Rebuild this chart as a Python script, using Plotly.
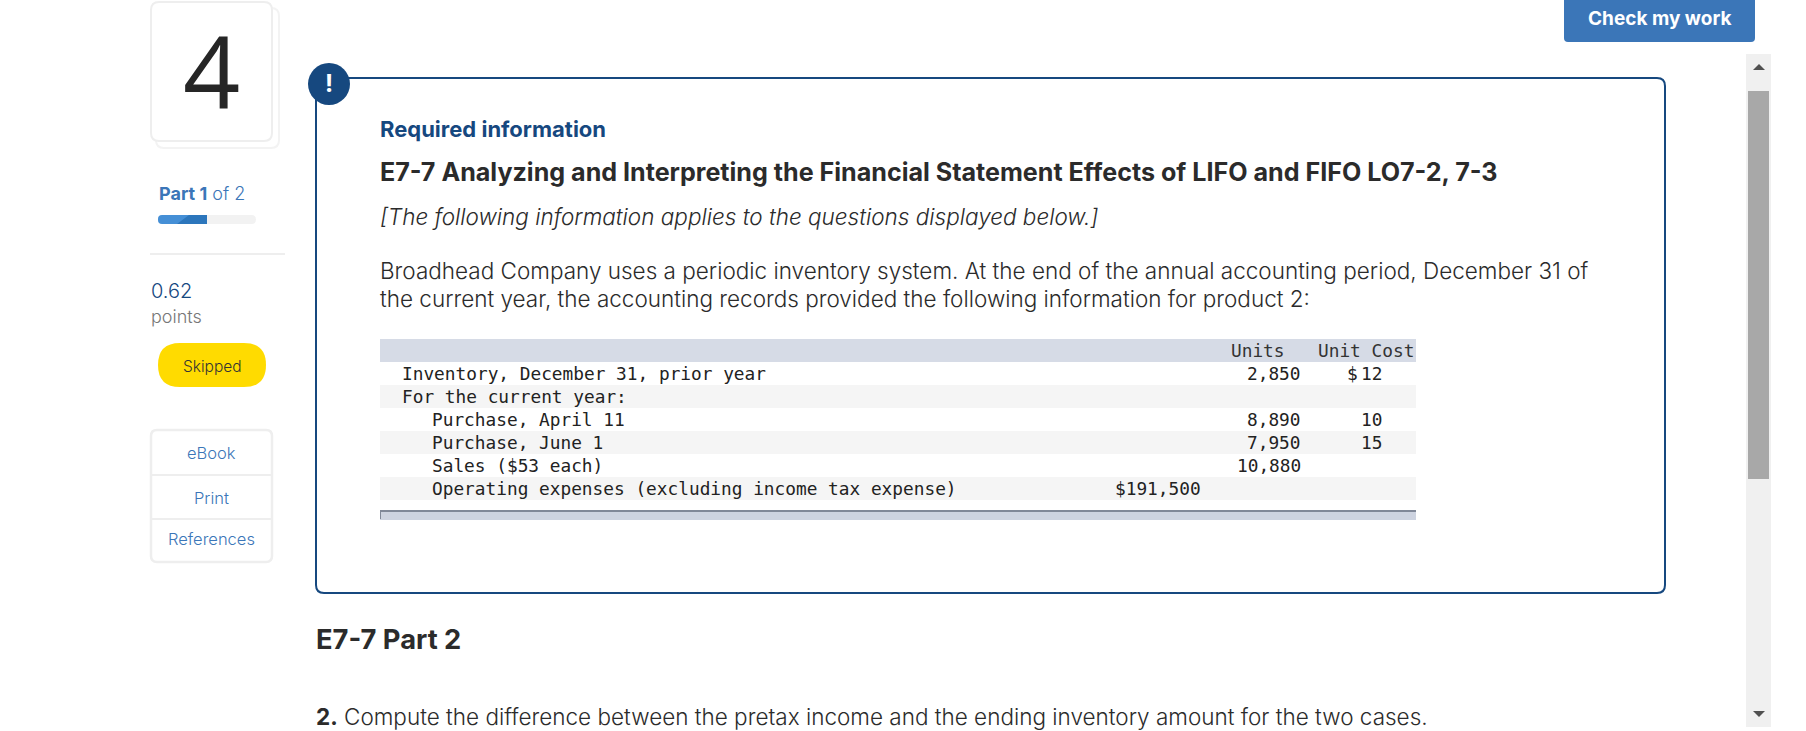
import plotly.graph_objects as go

# ----------------------------
# Texts and table values
# ----------------------------

question_number = "4"
part_label = "<b>Part 1</b> of 2"
score = "0.62"
score_unit = "points"
status = "Skipped"
side_links = ["eBook", "Print", "References"]

heading_info = "Required information"
heading_title = "E7-7 Analyzing and Interpreting the Financial Statement Effects of LIFO and FIFO LO7-2, 7-3"
intro = "[The following information applies to the questions displayed below.]"
body_lines = [
    "Broadhead Company uses a periodic inventory system. At the end of the annual accounting period, December 31 of",
    "the current year, the accounting records provided the following information for product 2:",
]
part_title = "E7-7 Part 2"
question = "<b>2.</b> Compute the difference between the pretax income and the ending inventory amount for the two cases."
button_label = "Check my work"

col_units = "Units"
col_cost = "Unit Cost"
row_labels = [
    "Inventory, December 31, prior year",
    "For the current year:",
    "Purchase, April 11",
    "Purchase, June 1",
    "Sales ($53 each)",
    "Operating expenses (excluding income tax expense)",
]
row_indent = [0, 0, 1, 1, 1, 1]
row_amounts = ["", "", "", "", "", "$191,500"]
row_units = ["2,850", "", "8,890", "7,950", "10,880", ""]
row_costs = ["12", "", "10", "15", "", ""]
row_dollar = ["$", "", "", "", "", ""]

# ----------------------------
# Colours and fonts
# ----------------------------

NAVY = "#16487f"
BLUE = "#3b76b8"
INK = "#2b2b2b"
EDGE = "#eeeeee"
SANS = "Inter"
MONO = "DejaVu Sans Mono"

W, H = 1806, 731

fig = go.Figure()


def rect(x0, y0, x1, y1, fill, line=None, width=0):
    fig.add_shape(type="rect", x0=x0, y0=y0, x1=x1, y1=y1, fillcolor=fill,
                  line=dict(color=line or fill, width=width), layer="below")


def rounded(x0, y0, x1, y1, r, fill, line=None, width=0):
    path = (f"M {x0+r} {y0} L {x1-r} {y0} Q {x1} {y0} {x1} {y0+r} "
            f"L {x1} {y1-r} Q {x1} {y1} {x1-r} {y1} "
            f"L {x0+r} {y1} Q {x0} {y1} {x0} {y1-r} "
            f"L {x0} {y0+r} Q {x0} {y0} {x0+r} {y0} Z")
    fig.add_shape(type="path", path=path, fillcolor=fill,
                  line=dict(color=line or fill, width=width), layer="below")


def label(x, y, text, size, color=INK, family=SANS, anchor="left", weight=300):
    fig.add_annotation(x=x, y=y, text=text, showarrow=False, xanchor=anchor, yanchor="middle",
                       align=anchor, borderpad=0,
                       font=dict(size=size, color=color, family=family, weight=weight))


# ----------------------------
# Left column
# ----------------------------

rounded(156, 8, 279, 148, 8, "white", "#f3f3f3", 2)
rounded(151, 2, 272, 141, 8, "white", EDGE, 2)
label(211.5, 70, question_number, 100, "#262626", "Open Sans", "center", 500)

label(158, 193, part_label, 18, BLUE)
rounded(158, 215, 256, 224, 4.5, "#f2f2f2")
rounded(158, 215, 207, 224, 4, "#458fd6")
fig.add_shape(type="path", path="M 177 224 L 189 215 L 207 215 L 207 224 Z",
              fillcolor="#2c76bc", line=dict(width=0), layer="below")
rect(150, 253, 285, 255, EDGE)

label(150, 291, score, 20, NAVY)
label(150, 316, score_unit, 18, "#777777")

rounded(158, 343, 266, 387, 22, "#ffdb00")
label(212, 366, status, 15.5, "#333333", anchor="center")

rounded(151, 430, 272, 562, 6, "white", EDGE, 2.5)
rect(151, 474, 272, 476, EDGE)
rect(151, 518, 272, 520, EDGE)
for name, cy in zip(side_links, [453, 498, 539]):
    label(211.5, cy, name, 16.5, BLUE, anchor="center")

# ----------------------------
# Information box
# ----------------------------

rounded(316, 78, 1665, 593, 8, "white", NAVY, 2)
fig.add_shape(type="circle", x0=308, y0=63, x1=350, y1=105, fillcolor=NAVY,
              line=dict(width=0), layer="below")
label(329, 83, "<b>!</b>", 24, "white", anchor="center", weight=700)

label(379, 129, f"<b>{heading_info}</b>", 22, NAVY, weight=600)
label(379, 172, f"<b>{heading_title}</b>", 25.1, weight=700)
label(379, 216, f"<i>{intro}</i>", 22.5)
for line, cy in zip(body_lines, [270, 298]):
    label(379, cy, line, 22.5)

# ----------------------------
# Table
# ----------------------------

rect(380, 339, 1416, 362, "#d6dbe6")
label(1286, 350, col_units, 17.8, "#333333", MONO, "right", 400)
label(1415, 350, col_cost, 17.8, "#333333", MONO, "right", 400)

for i, name in enumerate(row_labels):
    top = 362 + 23 * i
    if i % 2 == 1:
        rect(380, top, 1416, top + 23, "#f5f5f5")
    cy = top + 11
    label(401 + 30 * row_indent[i], cy, name, 17.8, "#222222", MONO, weight=400)
    if row_amounts[i]:
        label(1202, cy, row_amounts[i], 17.8, "#222222", MONO, "right", 400)
    if row_units[i]:
        label(1302, cy, row_units[i], 17.8, "#222222", MONO, "right", 400)
    if row_costs[i]:
        label(1383, cy, row_costs[i], 17.8, "#222222", MONO, "right", 400)
    if row_dollar[i]:
        label(1346, cy, row_dollar[i], 17.8, "#222222", MONO, weight=400)

rect(380, 510, 1416, 520, "#cdd3e0")
rect(380, 510, 1416, 512, "#808898")
rect(380, 510, 381, 519, "#808898")

# ----------------------------
# Below the box
# ----------------------------

label(315, 639, f"<b>{part_title}</b>", 27.3, weight=700)
label(315, 716, question, 22.5)

# ----------------------------
# Button and scrollbar
# ----------------------------

rounded(1564, -6, 1755, 42, 4, BLUE)
label(1659, 18, f"<b>{button_label}</b>", 19, "white", anchor="center", weight=700)

rect(1746, 54, 1771, 727, "#f0f0f0")
rect(1748, 91, 1769, 479, "#a8a8a8")
fig.add_shape(type="path", path="M 1753 70 L 1759 64 L 1765 70 Z", fillcolor="#505050",
              line=dict(width=0), layer="below")
fig.add_shape(type="path", path="M 1753 711 L 1759 717 L 1765 711 Z", fillcolor="#505050",
              line=dict(width=0), layer="below")

fig.update_layout(
    width=W,
    height=H,
    margin=dict(l=0, r=0, t=0, b=0),
    paper_bgcolor="white",
    plot_bgcolor="white",
    showlegend=False,
    xaxis=dict(range=[0, W], visible=False, fixedrange=True),
    yaxis=dict(range=[H, 0], visible=False, fixedrange=True),
)

fig.write_html(
    "out.html",
    config={"displayModeBar": False},
    post_script="document.body.style.margin='0';document.body.style.overflow='hidden';",
)
